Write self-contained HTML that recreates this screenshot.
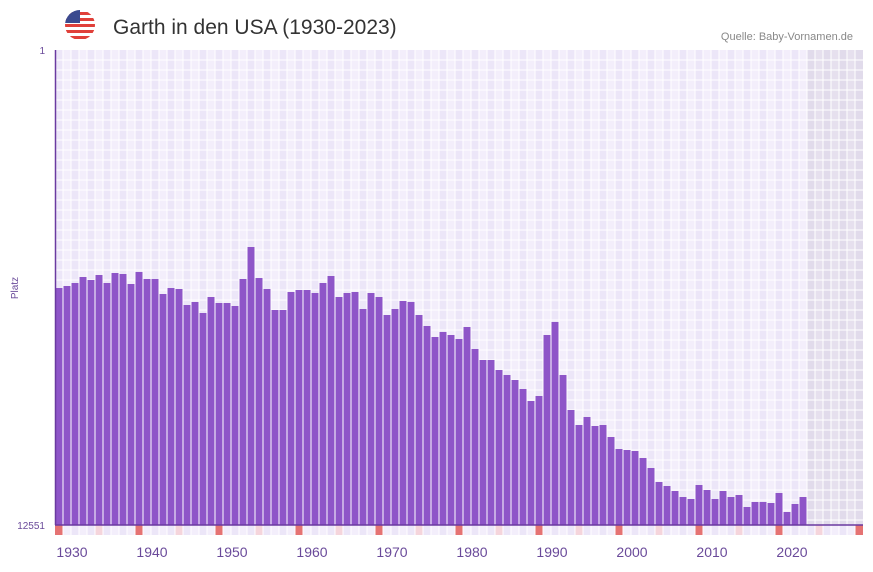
<!DOCTYPE html>
<html><head><meta charset="utf-8"><style>
body{margin:0;background:#fff;width:873px;height:567px;overflow:hidden;font-family:"Liberation Sans","DejaVu Sans",sans-serif}
</style></head><body>
<svg id="s" width="873" height="567" xmlns="http://www.w3.org/2000/svg">
<defs><clipPath id="fc"><circle cx="80" cy="25" r="15"/></clipPath></defs>
<g clip-path="url(#fc)">
<rect x="65" y="10" width="30" height="30" fill="#fff"/>
<rect x="65" y="12" width="30" height="3" fill="#e0403a"/>
<rect x="65" y="18" width="30" height="3" fill="#e0403a"/>
<rect x="65" y="24" width="30" height="3" fill="#e0403a"/>
<rect x="65" y="30" width="30" height="3" fill="#e0403a"/>
<rect x="65" y="36" width="30" height="3" fill="#e0403a"/>
<rect x="65" y="10" width="15" height="13" fill="#3b4a8f"/>
</g>
<text x="113" y="34" font-size="21" fill="#333">Garth in den USA (1930-2023)</text>
<text x="853" y="40" font-size="11" fill="#888" text-anchor="end">Quelle: Baby-Vornamen.de</text>
<text x="45" y="54" font-size="10" fill="#6a4a9a" text-anchor="end">1</text>
<text x="45" y="529" font-size="10" fill="#6a4a9a" text-anchor="end">12551</text>
<text x="18" y="288" font-size="10" fill="#6a4a9a" text-anchor="middle" transform="rotate(-90 18 288)">Platz</text>
<g id="g"></g>
</svg>
<script>
var g=document.getElementById('g'),h='';
var x0=55,y0=50,yb=525;
for(var i=0;i<101;i++){var x=x0+i*8;
 var c=(i>=94)?(i%2?'#e6e0ee':'#e1dbeb'):(i%2?'#f3eefb':'#ece6f8');
 h+='<rect x="'+x+'" y="'+y0+'" width="8" height="'+(yb-y0)+'" fill="'+c+'"/>';
 var m=(i%10==0)?'#e57373':(i%10==5?'#f5d5dc':(i%2?'#f3eefb':'#ece6f8'));
 h+='<rect x="'+x+'" y="525" width="8" height="10" fill="'+m+'"/>';}
for(var x=x0+8;x<863;x+=8)h+='<line x1="'+x+'" y1="50" x2="'+x+'" y2="535" stroke="#fff" stroke-width="1"/>';
for(var y=60;y<525;y+=10)h+='<line x1="55" y1="'+y+'" x2="863" y2="'+y+'" stroke="#fff" stroke-width="1"/>';
var t=[288,286,283,277,280,275,283,273,274,284,272,279,279,294,288,289,305,302,313,297,303,303,306,279,247,278,289,310,310,292,290,290,293,283,276,297,293,292,309,293,297,315,309,301,302,315,326,337,332,335,339,327,349,360,360,370,375,380,389,401,396,335,322,375,410,425,417,426,425,437,449,450,451,458,468,482,486,491,497,499,485,490,499,491,497,495,507,502,502,503,493,512,504,497];
for(var i=0;i<t.length;i++){var x=x0+i*8+0.5;h+='<rect x="'+x+'" y="'+t[i]+'" width="7" height="'+(yb-t[i])+'" fill="#8e55c8"/>';}
h+='<line x1="55.5" y1="50" x2="55.5" y2="525" stroke="#6a3aa0" stroke-width="1.5"/>';
h+='<line x1="55" y1="525" x2="863" y2="525" stroke="#6a3aa0" stroke-width="1.5"/>';
for(var k=0;k<10;k++){h+='<text x="'+(72+k*80)+'" y="557" font-size="14" fill="#6a4a9a" text-anchor="middle">'+(1930+k*10)+'</text>';}
g.innerHTML=h;
</script>
</body></html>
